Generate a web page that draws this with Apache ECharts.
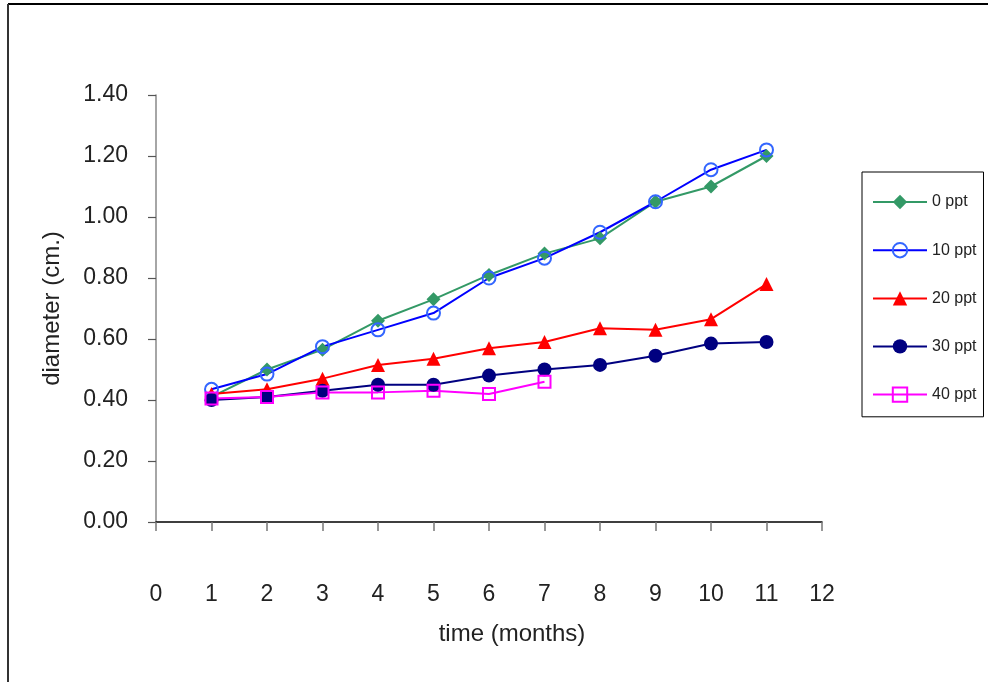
<!DOCTYPE html>
<html>
<head>
<meta charset="utf-8">
<script src="https://cdn.jsdelivr.net/npm/echarts@6/dist/echarts.min.js"></script>
<style>html,body{margin:0;padding:0;background:#fff;}#c{width:988px;height:682px;}</style>
</head>
<body>
<div id="c"></div>
<script>
var months = [1, 2, 3, 4, 5, 6, 7, 8, 9, 10, 11];
var seriesNames = ['0 ppt', '10 ppt', '20 ppt', '30 ppt', '40 ppt'];
var ppt0  = [0.41, 0.50, 0.565, 0.66, 0.73, 0.81, 0.88, 0.93, 1.05, 1.10, 1.20];
var ppt10 = [0.435, 0.485, 0.575, 0.63, 0.685, 0.80, 0.865, 0.95, 1.05, 1.155, 1.22];
var ppt20 = [0.42, 0.435, 0.47, 0.515, 0.535, 0.57, 0.59, 0.635, 0.63, 0.665, 0.78];
var ppt30 = [0.40, 0.41, 0.43, 0.45, 0.45, 0.48, 0.50, 0.515, 0.545, 0.585, 0.59];
var ppt40 = [0.405, 0.41, 0.425, 0.425, 0.43, 0.42, 0.46];
var yTicks = [0, 0.2, 0.4, 0.6, 0.8, 1.0, 1.2, 1.4];
var xTicks = [0, 1, 2, 3, 4, 5, 6, 7, 8, 9, 10, 11, 12];

function pairs(vals) { return vals.map(function (v, i) { return [months[i], v]; }); }

var txt = '#222';
var font = 'Liberation Sans, Arial, sans-serif';
var chart = echarts.init(document.getElementById('c'));
chart.setOption({
  animation: false,
  backgroundColor: '#fff',
  textStyle: { fontFamily: font, color: txt },
  grid: { left: 156, right: 166, top: 95, bottom: 160, containLabel: false },
  legend: {
    orient: 'vertical',
    left: 862, top: 172,
    padding: [22, 7, 14, 10],
    itemWidth: 54, itemHeight: 18, itemGap: 32,
    borderColor: '#000', borderWidth: 1,
    lineStyle: { width: 2 },
    textStyle: { fontSize: 16, color: txt, fontFamily: font },
    data: seriesNames
  },
  xAxis: {
    type: 'value', min: xTicks[0], max: xTicks[xTicks.length - 1], interval: 1,
    name: 'time (months)', nameLocation: 'middle', nameGap: 100,
    nameTextStyle: { fontSize: 24, color: txt, padding: [0, 0, 0, 46] },
    axisLine: { onZero: false, lineStyle: { color: '#000', width: 1.5 } },
    axisTick: { show: true, inside: false, length: 9, lineStyle: { color: '#777', width: 1.5 } },
    axisLabel: { margin: 61, fontSize: 23, color: txt },
    splitLine: { show: false }
  },
  yAxis: {
    type: 'value', min: yTicks[0], max: yTicks[yTicks.length - 1], interval: 0.2,
    name: 'diameter (cm.)', nameLocation: 'middle', nameGap: 92, nameRotate: 90,
    nameTextStyle: { fontSize: 24, color: txt },
    axisLine: { show: true, lineStyle: { color: '#888', width: 1.5 } },
    axisTick: { show: true, inside: false, length: 8, lineStyle: { color: '#555', width: 1.2 } },
    axisLabel: { margin: 28, fontSize: 23, color: txt, formatter: function (v) { return v.toFixed(2); } },
    splitLine: { show: false }
  },
  series: [
    { name: seriesNames[0], type: 'line', data: pairs(ppt0), symbol: 'diamond', symbolSize: 14,
      lineStyle: { color: '#339966', width: 2 }, itemStyle: { color: '#339966' } },
    { name: seriesNames[1], type: 'line', data: pairs(ppt10), symbol: 'circle', symbolSize: 13,
      lineStyle: { color: '#0000ff', width: 2 },
      itemStyle: { color: 'rgba(255,255,255,0)', borderColor: '#3366ff', borderWidth: 2 } },
    { name: seriesNames[2], type: 'line', data: pairs(ppt20), symbol: 'triangle', symbolSize: 14,
      lineStyle: { color: '#ff0000', width: 2 }, itemStyle: { color: '#ff0000' } },
    { name: seriesNames[3], type: 'line', data: pairs(ppt30), symbol: 'circle', symbolSize: 14,
      lineStyle: { color: '#000080', width: 2 }, itemStyle: { color: '#000080' } },
    { name: seriesNames[4], type: 'line', data: pairs(ppt40), symbol: 'rect', symbolSize: 12,
      lineStyle: { color: '#ff00ff', width: 2 },
      itemStyle: { color: 'rgba(255,255,255,0)', borderColor: '#ff00ff', borderWidth: 2 } }
  ],
  graphic: [
    { type: 'line', shape: { x1: 8, y1: 4, x2: 988, y2: 4 }, style: { stroke: '#000', lineWidth: 2 } },
    { type: 'line', shape: { x1: 8, y1: 4, x2: 8, y2: 682 }, style: { stroke: '#333', lineWidth: 2 } }
  ]
});
</script>
</body>
</html>
